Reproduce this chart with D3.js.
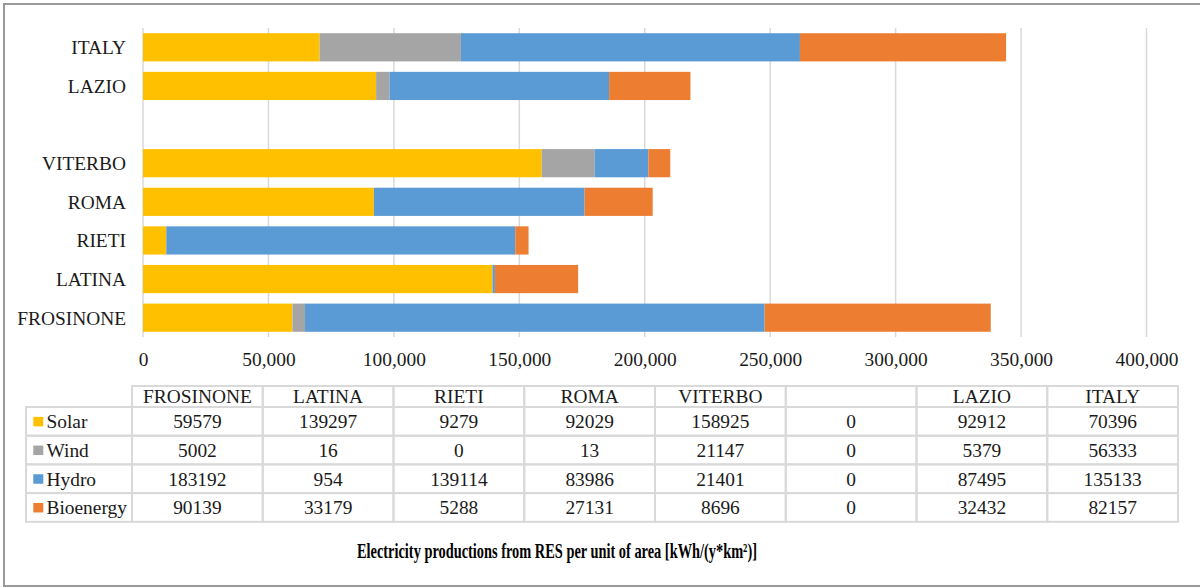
<!DOCTYPE html>
<html>
<head>
<meta charset="utf-8">
<script src="https://cdn.jsdelivr.net/npm/d3@7"></script>
<style>
  html, body { margin: 0; padding: 0; background: #ffffff; }
  svg { display: block; }
  text { font-family: "Liberation Serif", "Times New Roman", serif; fill: #1a1a1a; }
</style>
</head>
<body>
<svg id="chart" width="1200" height="588"></svg>
<script>
// Areas shown, bottom to top in the bar chart (blank slot separates provinces from totals)
const categories = ["FROSINONE", "LATINA", "RIETI", "ROMA", "VITERBO", "", "LAZIO", "ITALY"];

// Electricity production per unit of area, kWh/(y*km2)
const solar     = [59579, 139297, 9279, 92029, 158925, 0, 92912, 70396];
const wind      = [5002, 16, 0, 13, 21147, 0, 5379, 56333];
const hydro     = [183192, 954, 139114, 83986, 21401, 0, 87495, 135133];
const bioenergy = [90139, 33179, 5288, 27131, 8696, 0, 32432, 82157];

const seriesNames = ["Solar", "Wind", "Hydro", "Bioenergy"];
const seriesColors = ["#FFC000", "#A5A5A5", "#5B9BD5", "#ED7D31"];
const xTicks = [0, 50000, 100000, 150000, 200000, 250000, 300000, 350000, 400000];
const titleText = "Electricity productions from RES per unit of area [kWh/(y*km\u00B2)]";

const seriesValues = [solar, wind, hydro, bioenergy];
const rows = categories.map((c, i) => {
  const r = { category: c };
  seriesNames.forEach((s, k) => { r[s] = seriesValues[k][i]; });
  return r;
});

const svg = d3.select("#chart");
const labelFont = "'Liberation Serif', 'Times New Roman', serif";
const labelSize = "19.4px";

// Outer frame
svg.append("rect")
  .attr("x", 4).attr("y", 4)
  .attr("width", 1198).attr("height", 582)
  .attr("fill", "none")
  .attr("stroke", "#9a9a9a")
  .attr("stroke-width", 2);

// Scales
const x = d3.scaleLinear().domain([0, 400000]).range([143, 1146.5]);
const y = d3.scaleBand()
  .domain(categories.slice().reverse())
  .range([28, 337])
  .paddingInner(0.27)
  .paddingOuter(0.135);

// Vertical gridlines
svg.append("g")
  .selectAll("line")
  .data(xTicks)
  .join("line")
  .attr("x1", d => x(d)).attr("x2", d => x(d))
  .attr("y1", 28).attr("y2", 337)
  .attr("stroke", "#d9d9d9")
  .attr("stroke-width", 1.5);

// Stacked bars
const stacked = d3.stack().keys(seriesNames)(rows);
const color = d3.scaleOrdinal().domain(seriesNames).range(seriesColors);

svg.append("g")
  .selectAll("g")
  .data(stacked)
  .join("g")
  .attr("fill", d => color(d.key))
  .selectAll("rect")
  .data(d => d.filter(p => p[1] - p[0] > 0))
  .join("rect")
  .attr("x", p => x(p[0]))
  .attr("width", p => x(p[1]) - x(p[0]))
  .attr("y", p => y(p.data.category))
  .attr("height", y.bandwidth());

// Category axis
const yAxis = svg.append("g")
  .attr("transform", `translate(${x(0)},0)`)
  .call(d3.axisLeft(y).tickSize(0).tickPadding(17));
yAxis.select(".domain").remove();
yAxis.selectAll("text")
  .style("font-family", labelFont)
  .style("font-size", labelSize)
  .attr("fill", "#1a1a1a")
  .attr("dy", "0.36em");

// Value axis labels
const xAxis = svg.append("g")
  .attr("transform", "translate(0,349)")
  .call(d3.axisBottom(x).tickValues(xTicks).tickSize(0).tickPadding(0).tickFormat(d3.format(",")));
xAxis.select(".domain").remove();
xAxis.selectAll("text")
  .style("font-family", labelFont)
  .style("font-size", labelSize)
  .attr("fill", "#1a1a1a")
  .attr("dy", "0.9em");

// Data table
const col = d3.scaleBand().domain(categories.map((c, i) => i)).range([132, 1178]);
const headerTop = 386, headerBottom = 407, rowH = 28.7;
const labelLeft = 26;
const table = svg.append("g");
const gridColor = "#d9d9d9";

// header cells
table.selectAll("rect.head")
  .data(categories)
  .join("rect")
  .attr("class", "head")
  .attr("x", (d, i) => col(i)).attr("y", headerTop)
  .attr("width", col.bandwidth()).attr("height", headerBottom - headerTop)
  .attr("fill", "none").attr("stroke", gridColor).attr("stroke-width", 2);

table.selectAll("text.head")
  .data(categories)
  .join("text")
  .attr("class", "head")
  .attr("x", (d, i) => col(i) + col.bandwidth() / 2)
  .attr("y", headerBottom - 3.8)
  .attr("text-anchor", "middle")
  .style("font-size", labelSize)
  .text(d => d);

// body rows
seriesNames.forEach((s, k) => {
  const top = headerBottom + k * rowH;
  const g = table.append("g");
  g.append("rect")
    .attr("x", labelLeft).attr("y", top)
    .attr("width", col(0) - labelLeft).attr("height", rowH)
    .attr("fill", "none").attr("stroke", gridColor).attr("stroke-width", 2);
  g.append("rect")
    .attr("x", 33.3).attr("y", top + rowH / 2 - 4.5)
    .attr("width", 10).attr("height", 9.5)
    .attr("fill", seriesColors[k]);
  g.append("text")
    .attr("x", 46.5).attr("y", top + rowH / 2 + 7)
    .style("font-size", labelSize)
    .text(s);
  g.selectAll("rect.cell")
    .data(seriesValues[k])
    .join("rect")
    .attr("class", "cell")
    .attr("x", (d, i) => col(i)).attr("y", top)
    .attr("width", col.bandwidth()).attr("height", rowH)
    .attr("fill", "none").attr("stroke", gridColor).attr("stroke-width", 2);
  g.selectAll("text.cell")
    .data(seriesValues[k])
    .join("text")
    .attr("class", "cell")
    .attr("x", (d, i) => col(i) + col.bandwidth() / 2)
    .attr("y", top + rowH / 2 + 7)
    .attr("text-anchor", "middle")
    .style("font-size", labelSize)
    .text(d => d);
});

// Axis title
svg.append("text")
  .attr("x", 557).attr("y", 558)
  .attr("text-anchor", "middle")
  .attr("textLength", 400)
  .attr("lengthAdjust", "spacingAndGlyphs")
  .style("font-size", "21px")
  .style("font-weight", "bold")
  .style("fill", "#000000")
  .text(titleText);
</script>
</body>
</html>
